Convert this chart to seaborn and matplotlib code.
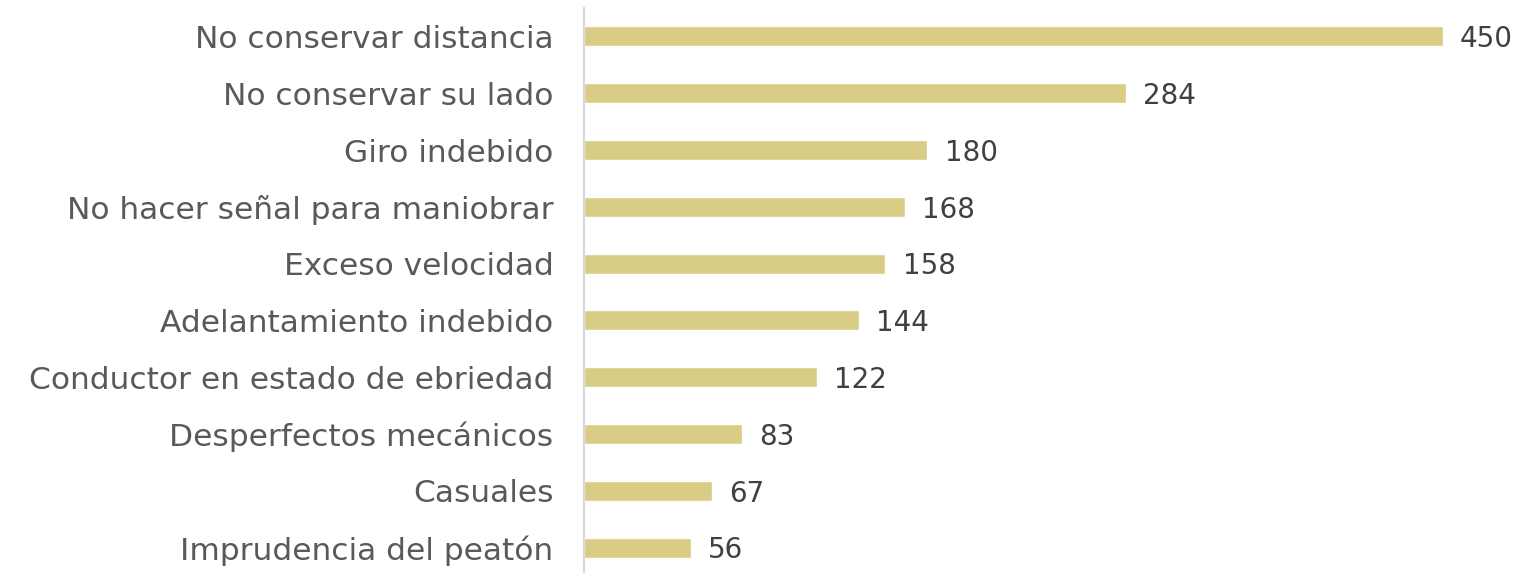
import matplotlib
matplotlib.use("Agg")
import matplotlib.pyplot as plt
import seaborn as sns
import pandas as pd

causas = ["No conservar distancia", "No conservar su lado", "Giro indebido",
          "No hacer señal para maniobrar", "Exceso velocidad",
          "Adelantamiento indebido", "Conductor en estado de ebriedad",
          "Desperfectos mecánicos", "Casuales", "Imprudencia del peatón"]
valores = [450, 284, 180, 168, 158, 144, 122, 83, 67, 56]

df = pd.DataFrame({"causa": causas, "valor": valores})

sns.set_style("white")
plt.rcParams['font.family'] = ['DejaVu Sans']

fig = plt.figure(figsize=(15.15, 5.73), dpi=100)
ax = fig.add_axes([584 / 1515, -3 / 573, 1 - 584 / 1515, 568 / 573])
sns.barplot(data=df, x="valor", y="causa", color="#D9CC85", saturation=1,
            width=0.35, ax=ax)
ax.set_xlim(0, 488)
ax.set_xlabel("")
ax.set_ylabel("")
ax.set_xticks([])
for s in ["top", "right", "bottom"]:
    ax.spines[s].set_visible(False)
ax.spines["left"].set_color("#D9D9D9")
ax.spines["left"].set_linewidth(1.5)
ax.tick_params(axis="y", length=0, pad=22, labelsize=22.5, labelcolor="#595959")

for i, v in enumerate(valores):
    ax.text(v + 9, i + 0.05, str(v), va="center", ha="left", fontsize=20,
            color="#404040")

fig.savefig("out.png", dpi=100)
